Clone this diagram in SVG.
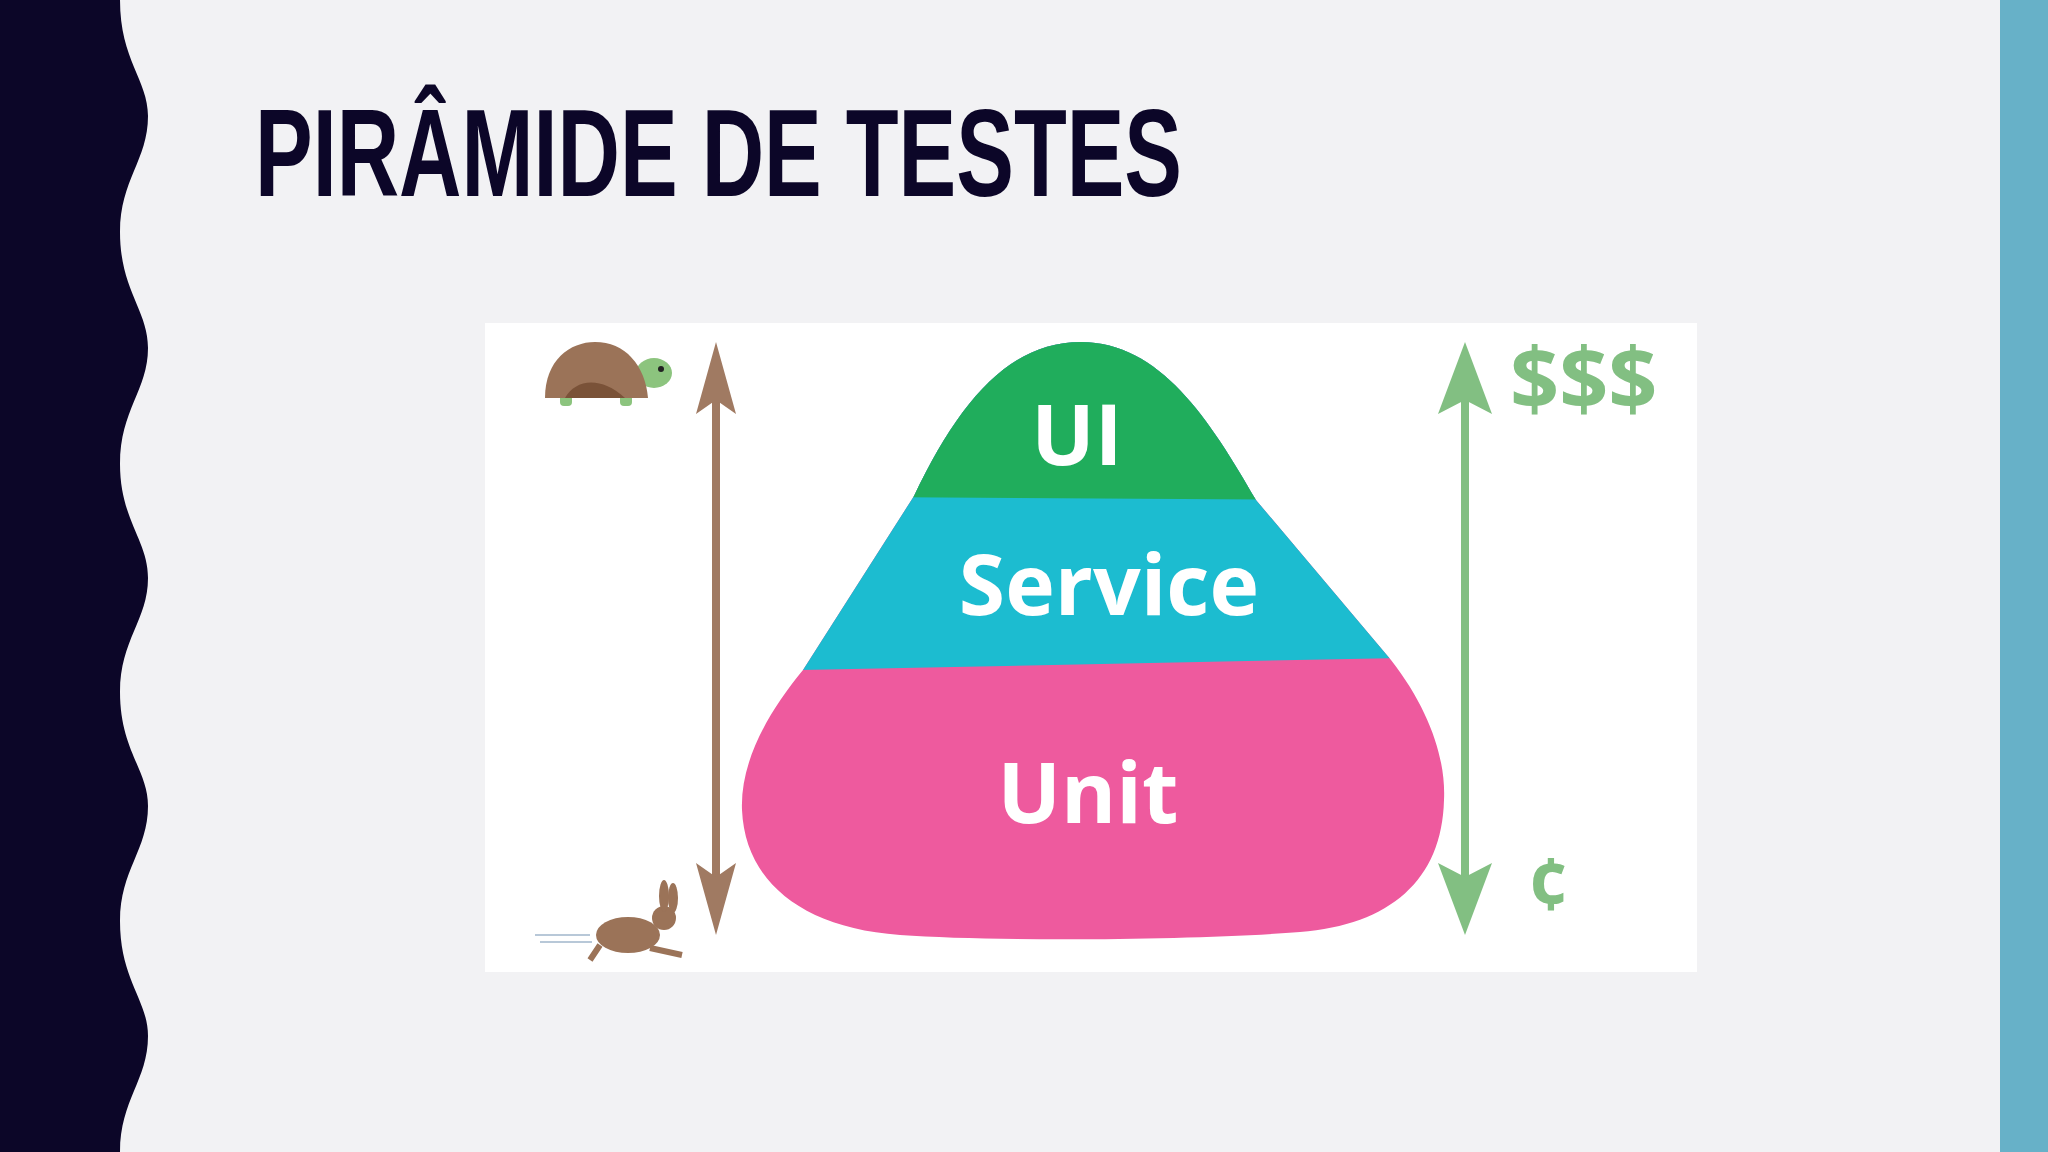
<svg xmlns="http://www.w3.org/2000/svg" width="2048" height="1152" viewBox="0 0 2048 1152">
<style>
.lbl{font-family:"Open Sans","Liberation Sans",sans-serif;font-weight:700;fill:#ffffff;text-anchor:middle}
.money{font-family:"Open Sans","Liberation Sans",sans-serif;font-weight:700;fill:#82bf82}
</style>
<defs>
<clipPath id="pyr"><path d="M1081,342 C1160,342 1210,420 1256,500 L1391,660 C1430,710 1446,760 1444,800 C1442,880 1390,925 1300,932 C1200,940 1000,942 900,935 C800,928 745,880 742,810 C740,760 770,710 803,670 L914,496 C960,400 1010,342 1081,342 Z"/></clipPath>
</defs>
<rect width="2048" height="1152" fill="#f2f2f4"/>
<path id="wave" d="M0,0 L120,0 C120,60 148,80 148,116 C148,160 120,180 120,232 C120,290 148,310 148,348 C148,390 120,410 120,464 C120,520 148,540 148,578 C148,620 120,640 120,692 C120,750 148,770 148,806 C148,850 120,870 120,921 C120,980 148,1000 148,1036 C148,1080 120,1100 120,1152 L0,1152 Z" fill="#0c0628"/>
<rect x="2000" y="0" width="48" height="1152" fill="#67b1c8"/>
<text x="255" y="196" font-family="Liberation Sans,Arial,sans-serif" font-weight="700" font-size="124" fill="#0c0628" textLength="927" lengthAdjust="spacingAndGlyphs">PIRÂMIDE DE TESTES</text>
<rect x="485" y="323" width="1212" height="649" fill="#ffffff"/>
<g id="pyramid" clip-path="url(#pyr)">
<rect x="700" y="330" width="800" height="620" fill="#ee5a9e"/>
<polygon points="700,330 1500,330 1500,656 700,672" fill="#1cbcd0"/>
<polygon points="700,330 1500,330 1500,501 700,496" fill="#20ad5c"/>
</g>
<g id="labels">
<text class="lbl" x="1077" y="465" font-size="84">UI</text>
<text class="lbl" x="1109" y="615" font-size="84">Service</text>
<text class="lbl" x="1088" y="823" font-size="84">Unit</text>
<text class="money" x="1510" y="410" font-size="86">$$$</text>
<text class="money" x="1528" y="910" font-size="72">¢</text>
</g>
<g id="connectors">
<line x1="716" y1="380" x2="716" y2="898" stroke="#a07a62" stroke-width="8"/>
<polygon points="716,342 696,414 716,400 736,414" fill="#a07a62"/>
<polygon points="716,935 696,863 716,877 736,863" fill="#a07a62"/>
<line x1="1465" y1="380" x2="1465" y2="898" stroke="#82bf82" stroke-width="8"/>
<polygon points="1465,342 1438,414 1465,400 1492,414" fill="#82bf82"/>
<polygon points="1465,935 1438,863 1465,877 1492,863" fill="#82bf82"/>
</g>
<g id="turtle">
<ellipse cx="654" cy="373" rx="18" ry="15" fill="#8cc47e"/>
<circle cx="661" cy="369" r="3" fill="#222"/>
<rect x="560" y="390" width="12" height="16" rx="4" fill="#8cc47e"/>
<rect x="620" y="390" width="12" height="16" rx="4" fill="#8cc47e"/>
<path d="M545,398 C545,360 570,342 595,342 C625,342 645,365 648,398 Z" fill="#9b7358"/>
<path d="M565,398 C575,380 600,375 625,398 Z" fill="#7a5238"/>
</g>
<g id="rabbit">
<line x1="535" y1="935" x2="590" y2="935" stroke="#b8c8d8" stroke-width="2"/>
<line x1="540" y1="942" x2="592" y2="942" stroke="#b8c8d8" stroke-width="2"/>
<ellipse cx="628" cy="935" rx="32" ry="18" fill="#9b7358"/>
<circle cx="664" cy="918" r="12" fill="#9b7358"/>
<ellipse cx="664" cy="896" rx="5" ry="16" fill="#9b7358"/>
<ellipse cx="673" cy="898" rx="5" ry="15" fill="#9b7358"/>
<path d="M600,945 L590,960 M650,948 L682,955" stroke="#9b7358" stroke-width="6"/>
</g>
</svg>
